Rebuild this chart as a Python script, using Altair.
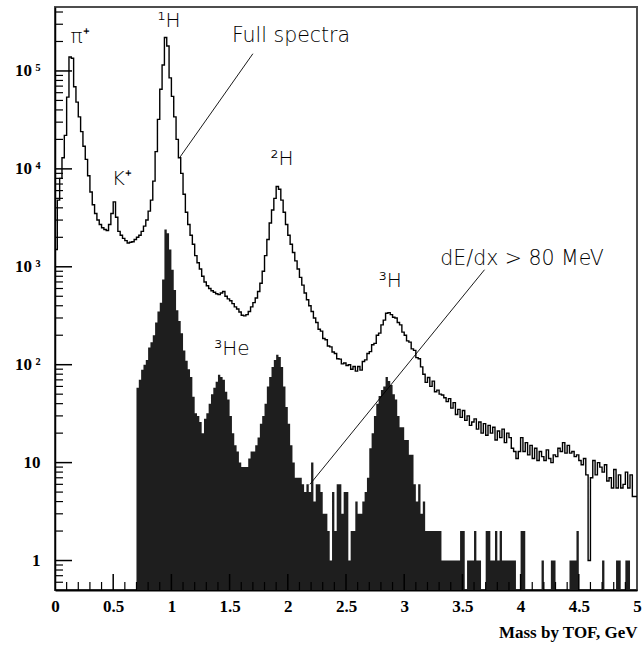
import altair as alt
import numpy as np
import pandas as pd

# ---- binning / axis ranges ----
BIN_WIDTH = 0.02
N_BINS = 250
X_MIN, X_MAX = 0.0, 5.0
Y_MIN, Y_MAX = 0.5, 4.5e5
PLOT_W, PLOT_H = 582, 583

# ---- full TOF mass spectrum, counts per 0.02 GeV bin ----
full_counts = [
    1500, 4800, 8000, 13000, 22000, 54000, 139000, 135000, 69000, 48000,
    34000, 24000, 17000, 12500, 8500, 5800, 4300, 3500, 3000, 2700,
    2500, 2400, 2350, 2700, 3500, 4600, 3200, 2300, 2100, 1950,
    1850, 1750, 1780, 1800, 1900, 2000, 2100, 2300, 2600, 3000,
    3700, 4800, 7500, 15000, 32000, 65000, 115000, 220000, 180000, 85000,
    55000, 34000, 20000, 13000, 9000, 5500, 3600, 2700, 2100, 1700,
    1300, 1100, 950, 800, 700, 640, 600, 570, 550, 530,
    520, 540, 560, 500, 470, 450, 420, 390, 370, 345,
    320, 315, 325, 350, 390, 430, 480, 560, 680, 900,
    1300, 1900, 2800, 3800, 5000, 6600, 6200, 4800, 3600, 2700,
    2100, 1700, 1400, 1150, 950, 780, 650, 540, 460, 400,
    350, 300, 270, 230, 220, 185, 180, 155, 152, 135,
    130, 115, 114, 102, 104, 98, 100, 90, 96, 86,
    96, 88, 108, 112, 130, 136, 160, 165, 200, 210,
    255, 285, 335, 340, 325, 305, 300, 270, 255, 215,
    200, 175, 170, 145, 140, 118, 115, 95, 80, 66,
    74, 60, 68, 53, 55, 50, 49, 46, 42, 45,
    36, 41, 31, 35, 29, 34, 27, 30, 24, 26,
    28, 22, 26, 20, 25, 19, 24, 20, 23, 17,
    21, 18, 22, 16, 20, 18, 14, 13, 11, 13,
    18, 13, 16, 12, 15, 11, 14, 10.5, 13, 11.5,
    10.5, 13.5, 11, 10, 12, 11.5, 14, 13, 16, 12.5,
    15, 12.5, 13, 11.5, 12, 10.5, 9.5, 11, 7.5, 1,
    7, 10.5, 7.5, 10, 9, 8, 9.5, 6.5, 7, 5.5,
    8.5, 5.5, 7.5, 5.5, 6, 8, 5.5, 7.5, 4.5, 4.5,
]

# ---- events with dE/dx > 80 MeV, same binning ----
dedx_counts = [
    0, 0, 0, 0, 0, 0, 0, 0, 0, 0,
    0, 0, 0, 0, 0, 0, 0, 0, 0, 0,
    0, 0, 0, 0, 0, 0, 0, 0, 0, 0,
    0, 0, 0, 0, 0, 58, 70, 89, 100, 112,
    150, 170, 200, 270, 350, 430, 740, 2400, 2200, 1500,
    930, 580, 360, 280, 210, 140, 110, 90, 75, 47,
    32, 30, 26, 20, 28, 32, 40, 50, 58, 67,
    79, 75, 70, 53, 44, 30, 20, 15, 13, 10,
    9, 9, 9, 11, 13, 13, 15, 18, 25, 30,
    40, 60, 75, 95, 112, 126, 120, 95, 60, 37,
    25, 15, 10, 7, 7, 7, 6, 5, 6, 5,
    10, 4, 6, 6, 5, 3, 3, 2, 1, 5,
    2, 6, 6, 3, 5, 5, 1, 2, 2, 4,
    3, 3, 4, 5, 7, 14, 20, 30, 40, 48,
    55, 60, 75, 68, 62, 50, 44, 30, 23, 23,
    17, 17, 12, 12, 6, 4, 6, 3, 4, 2,
    2, 2, 2, 2, 2, 2, 1, 1, 1, 1,
    1, 1, 1, 1, 2, 2, 0, 1, 1, 1,
    2, 1, 1, 0, 0, 2, 2, 1, 1, 2,
    1, 2, 1, 1, 1, 1, 1, 1, 0, 0,
    2, 2, 0, 0, 0, 0, 0, 0, 0, 1,
    0, 0, 0, 1, 1, 0, 0, 0, 0, 0,
    0, 1, 1, 1, 2, 0, 0, 0, 0, 0,
    0, 0, 0, 0, 0, 1, 0, 0, 0, 0,
    0, 1, 1, 0, 0, 1, 1, 0, 0, 0,
]

assert len(full_counts) == N_BINS and len(dedx_counts) == N_BINS

# ---- peak labels and captions (mass in GeV, count level of text baseline) ----
peak_labels = ["π⁺", "¹H", "K⁺", "²H", "³He", "³H"]
peak_x = [0.215, 0.98, 0.575, 1.95, 1.52, 2.88]
peak_y = [1.94e5, 2.8e5, 6900, 11000, 126, 615]

captions = ["Full spectra", "dE/dx > 80 MeV"]
caption_x = [1.52, 3.31]
caption_y = [1.98e5, 1050]

# leader lines from the captions to the histograms
leader_x = [1.70, 3.69]
leader_y = [1.5e5, 933]
leader_x2 = [1.074, 2.19]
leader_y2 = [13200, 6.0]

# ---- tables ----
edges = [round(i * BIN_WIDTH, 4) for i in range(N_BINS)] + [X_MAX]
full_df = pd.DataFrame({"mass": edges, "count": full_counts + [full_counts[-1]]})
dedx_df = pd.DataFrame({"mass": edges, "count": dedx_counts + [dedx_counts[-1]]})
peaks_df = pd.DataFrame({"label": peak_labels, "x": peak_x, "y": peak_y})
caps_df = pd.DataFrame({"label": captions, "x": caption_x, "y": caption_y})
lead_df = pd.DataFrame({"x": leader_x, "y": leader_y, "x2": leader_x2, "y2": leader_y2})

y_major = [1, 10, 100, 1000, 10000, 100000]
y_minor = [0.6, 0.7, 0.8, 0.9] + [
    k * 10 ** d for d in range(0, 6) for k in range(2, 10) if k * 10 ** d <= Y_MAX
]
x_major = [0.5 * i for i in range(1, 10)]
x_minor = [round(0.1 * i, 2) for i in range(1, 50) if i % 5 != 0]

# ---- scales and axes ----
x_scale = alt.Scale(domain=[X_MIN, X_MAX], nice=False, zero=False)
y_scale = alt.Scale(type="log", domain=[Y_MIN, Y_MAX], nice=False)

SERIF = "Liberation Serif"
SANS = "DejaVu Sans"
x_axis = alt.Axis(
    values=[0.5 * i for i in range(11)], format="~g", grid=False, ticks=False,
    tickSize=0, labelFont=SERIF, labelFontWeight="bold", labelFontSize=17,
    labelColor="black", labelPadding=8, labelFlush=False,
    domainColor="black", domainWidth=2,
    title="Mass by TOF, GeV", titleFont=SERIF, titleFontWeight="bold",
    titleFontSize=17, titleColor="black", titleAnchor="end", titleAlign="right",
    titlePadding=10,
)
y_axis = alt.Axis(
    values=y_major, grid=False, ticks=False, tickSize=0,
    labelFont=SERIF, labelFontWeight="bold", labelFontSize=17, labelColor="black",
    labelPadding=15, labelFlush=False,
    labelExpr=(
        "datum.value == 1 ? '1' : datum.value == 10 ? '10' : "
        "datum.value == 100 ? '10\u2009²' : datum.value == 1000 ? '10\u2009³' : "
        "datum.value == 10000 ? '10\u2009⁴' : '10\u2009⁵'"
    ),
    domainColor="black", domainWidth=1.5, title=None,
)

# ---- layers ----
dedx_area = (
    alt.Chart(dedx_df)
    .transform_calculate(level=f"max(datum.count, {Y_MIN})")
    .mark_area(interpolate="step-after", color="#1e1e1e", clip=True)
    .encode(
        x=alt.X("mass:Q", scale=x_scale, axis=x_axis),
        y=alt.Y("level:Q", scale=y_scale, axis=y_axis),
        y2=alt.datum(Y_MIN),
    )
)

full_line = (
    alt.Chart(full_df)
    .mark_line(interpolate="step-after", color="black", strokeWidth=1.4, clip=True)
    .encode(
        x=alt.X("mass:Q", scale=x_scale),
        y=alt.Y("count:Q", scale=y_scale),
    )
)

leaders = (
    alt.Chart(lead_df)
    .mark_rule(color="black", strokeWidth=0.9)
    .encode(
        x=alt.X("x:Q", scale=x_scale),
        y=alt.Y("y:Q", scale=y_scale),
        x2="x2:Q",
        y2="y2:Q",
    )
)

peak_text = (
    alt.Chart(peaks_df)
    .mark_text(font=SANS, fontSize=20, fontWeight=300, align="center",
               baseline="alphabetic", color="black")
    .encode(x=alt.X("x:Q", scale=x_scale), y=alt.Y("y:Q", scale=y_scale), text="label:N")
)

caption_text = (
    alt.Chart(caps_df)
    .mark_text(font=SANS, fontSize=20.5, fontWeight=300, align="left",
               baseline="alphabetic", color="black")
    .encode(x=alt.X("x:Q", scale=x_scale), y=alt.Y("y:Q", scale=y_scale), text="label:N")
)

# inward-pointing ticks, long on decades / half-GeV, short otherwise
y_major_ticks = (
    alt.Chart(pd.DataFrame({"v": y_major}))
    .mark_rule(color="black", strokeWidth=1.5)
    .encode(y=alt.Y("v:Q", scale=y_scale), x=alt.value(0), x2=alt.value(17))
)
y_minor_ticks = (
    alt.Chart(pd.DataFrame({"v": y_minor}))
    .mark_rule(color="black", strokeWidth=1.2)
    .encode(y=alt.Y("v:Q", scale=y_scale), x=alt.value(0), x2=alt.value(8))
)
x_major_ticks = (
    alt.Chart(pd.DataFrame({"v": x_major}))
    .mark_rule(color="black", strokeWidth=1.5)
    .encode(x=alt.X("v:Q", scale=x_scale), y=alt.value(PLOT_H), y2=alt.value(PLOT_H - 16))
)
x_minor_ticks = (
    alt.Chart(pd.DataFrame({"v": x_minor}))
    .mark_rule(color="black", strokeWidth=1.2)
    .encode(x=alt.X("v:Q", scale=x_scale), y=alt.value(PLOT_H), y2=alt.value(PLOT_H - 8))
)

chart = (
    alt.layer(
        dedx_area, full_line, leaders, peak_text, caption_text,
        y_major_ticks, y_minor_ticks, x_major_ticks, x_minor_ticks,
    )
    .properties(
        width=PLOT_W,
        height=PLOT_H,
        autosize=alt.AutoSizeParams(type="none"),
        padding={"left": 55, "top": 7, "right": 6, "bottom": 56},
        background="white",
    )
    .configure_view(stroke="#4d4d4d", strokeWidth=2)
)

chart.save("out.html", embed_options={"renderer": "svg", "actions": False})
